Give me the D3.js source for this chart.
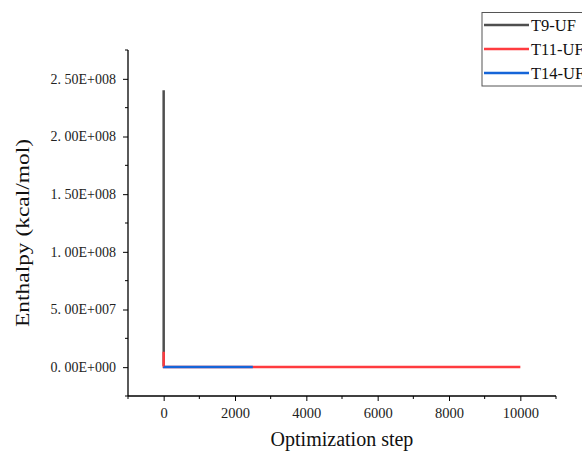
<!DOCTYPE html>
<html><head><meta charset="utf-8">
<script src="https://cdn.jsdelivr.net/npm/d3@7"></script>
<style>body{margin:0;background:#fff}svg{display:block}</style>
</head><body>
<svg id="c" width="582" height="452"></svg>
<script>
const seriesNames = ["T9-UF", "T11-UF", "T14-UF"];
const seriesColors = ["#4f4f4f", "#ff3b3f", "#1565d8"];
const t9Steps = [0, 1, 2, 5];
const t9Values = [2.40e8, 1.5e7, 2.0e6, 1.0e6];
const t11Steps = [0, 1, 5, 10000];
const t11Values = [1.33e7, 1.0e6, 2.0e5, 1.0e5];
const t14Steps = [0, 5, 2500];
const t14Values = [3.0e5, 1.0e5, 5.0e4];
const xTicks = [0, 2000, 4000, 6000, 8000, 10000];
const yTicks = [0, 5e7, 1e8, 1.5e8, 2e8, 2.5e8];
const yTickLabels = ["0. 00E+000", "5. 00E+007", "1. 00E+008", "1. 50E+008", "2. 00E+008", "2. 50E+008"];

const svg = d3.select("#c");
const x = d3.scaleLinear().domain([-1000, 11000]).range([128, 556]);
const y = d3.scaleLinear().domain([-2.5e7, 2.75e8]).range([396, 50]);
const font = "'Liberation Serif', 'DejaVu Serif', serif";

// axes
const xAxis = d3.axisBottom(x).tickValues(xTicks).tickSize(5).tickPadding(7).tickFormat(d => d);
const gx = svg.append("g").attr("transform", "translate(0,396)").call(xAxis);
gx.select(".domain").attr("d", "M128,0H556").attr("stroke", "#000").attr("stroke-width", 1.3);
gx.selectAll("text").attr("font-family", font).attr("font-size", 14.5).attr("fill", "#222");
const xMinor = d3.range(-1000, 11001, 2000);
gx.selectAll(".mn").data(xMinor).enter().append("line")
  .attr("x1", d => x(d)).attr("x2", d => x(d)).attr("y1", 0).attr("y2", 3)
  .attr("stroke", "#000");

const yAxis = d3.axisLeft(y).tickValues(yTicks).tickSize(5).tickPadding(7).tickFormat((d, i) => yTickLabels[i]);
const gy = svg.append("g").attr("transform", "translate(128,0)").call(yAxis);
gy.select(".domain").attr("d", "M0,50V396").attr("stroke", "#000").attr("stroke-width", 1.3);
gy.selectAll("text").attr("font-family", font).attr("font-size", 14).attr("fill", "#222");
const yMinor = d3.range(-2.5e7, 2.76e8, 5e7);
gy.selectAll(".mn").data(yMinor).enter().append("line")
  .attr("x1", 0).attr("x2", -3).attr("y1", d => y(d)).attr("y2", d => y(d))
  .attr("stroke", "#000");

// titles
svg.append("text").attr("x", 342).attr("y", 446).attr("text-anchor", "middle")
  .attr("font-family", font).attr("font-size", 20).attr("fill", "#111").text("Optimization step");
svg.append("text").attr("transform", "translate(28.5,233) rotate(-90)").attr("text-anchor", "middle")
  .attr("font-family", font).attr("font-size", 18.5).attr("textLength", 188).attr("lengthAdjust", "spacingAndGlyphs")
  .attr("fill", "#111").text("Enthalpy (kcal/mol)");

// lines
const line = d3.line().x(d => x(d[0])).y(d => y(d[1]));
const data = [
  t9Steps.map((s, i) => [s, t9Values[i]]),
  t11Steps.map((s, i) => [s, t11Values[i]]),
  t14Steps.map((s, i) => [s, t14Values[i]])
];
data.forEach((d, i) => {
  svg.append("path").datum(d).attr("d", line).attr("fill", "none")
    .attr("stroke", seriesColors[i]).attr("stroke-width", 2.5);
});

// legend
const lg = svg.append("g");
lg.append("rect").attr("x", 482).attr("y", 12.5).attr("width", 110).attr("height", 73.5)
  .attr("fill", "#fff").attr("stroke", "#555").attr("stroke-width", 1);
seriesNames.forEach((n, i) => {
  const yy = 25 + i * 24;
  lg.append("line").attr("x1", 484).attr("x2", 529).attr("y1", yy).attr("y2", yy)
    .attr("stroke", seriesColors[i]).attr("stroke-width", 2.5);
  lg.append("text").attr("x", 531).attr("y", yy + 5.5).attr("font-family", font)
    .attr("font-size", 16.5).attr("fill", "#111").text(n);
});
</script>
</body></html>
